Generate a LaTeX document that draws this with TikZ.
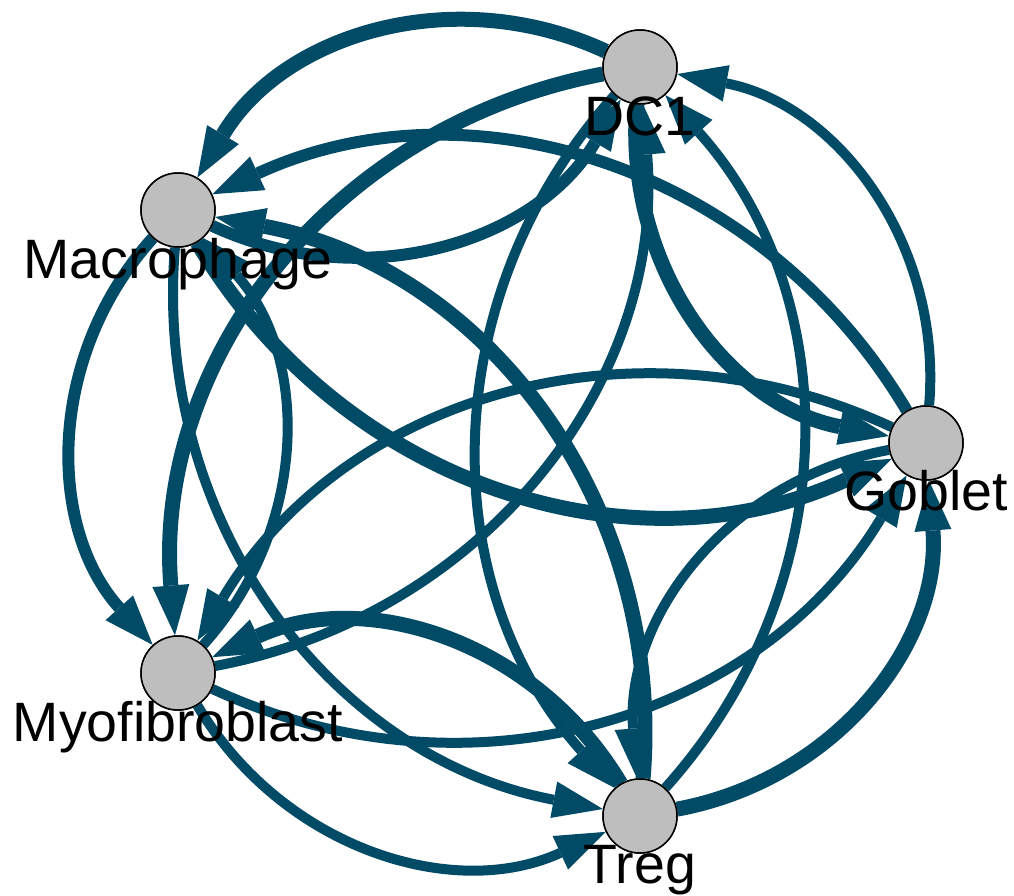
\documentclass[tikz,border=0pt]{standalone}
\usepackage{fontspec}
\setmainfont{Liberation Sans}[Ligatures=NoCommon]
\usetikzlibrary{arrows.meta}
\definecolor{edgec}{HTML}{024B66}
\definecolor{nodec}{HTML}{BEBEBE}
\begin{document}
\begin{tikzpicture}[x=1pt,y=-1pt,
  vtx/.style={circle, draw=black, line width=1.5pt, fill=nodec, minimum size=74pt, inner sep=0pt},
  lbl/.style={anchor=base, font=\fontsize{55.5}{60}\selectfont, inner sep=0pt},
  e/.style={draw=edgec, -{Triangle[length=50pt,width=37pt,line width=0pt]}, bend right=42},
  wA/.style={e, line width=15pt},
  wB/.style={e, line width=12pt},
  wC/.style={e, line width=10pt}
]
\useasboundingbox (0,0) rectangle (1014,895);
\node[vtx] (D) at (640,67) {};
\node[vtx] (M) at (178,210) {};
\node[vtx] (G) at (926,443) {};
\node[vtx] (Y) at (178,673) {};
\node[vtx] (T) at (640,816) {};
% edges
\path (D) edge[wA] (M);
\path (M) edge[wB] (D);
\path (D) edge[wA] (G);
\path (G) edge[wC] (D);
\path (D) edge[wA] (Y);
\path (Y) edge[wC] (D);
\path (D) edge[wC] (T);
\path (T) edge[wC] (D);
\path (M) edge[wA] (G);
\path (G) edge[wB] (M);
\path (M) edge[wB] (Y);
\path (Y) edge[wC] (M);
\path (M) edge[wC] (T);
\path (T) edge[wA] (M);
\path (G) edge[wC] (T);
\path (T) edge[wA] (G);
\path (G) edge[wC] (Y);
\path (Y) edge[wC] (G);
\path (Y) edge[wC] (T);
\path (T) edge[wA] (Y);
% redraw nodes on top of the edges
\node[vtx] at (D) {};
\node[vtx] at (M) {};
\node[vtx] at (G) {};
\node[vtx] at (Y) {};
\node[vtx] at (T) {};
% labels
\node[lbl] (lD) at (640,135) {DC1};
\node[lbl] (lM) at (178,278) {Macrophage};
\node[lbl] (lG) at (926,510) {Goblet};
\node[lbl] (lY) at (178,741) {Myofibroblast};
\node[lbl] (lT) at (640,883) {Treg};
\end{tikzpicture}
\end{document}
